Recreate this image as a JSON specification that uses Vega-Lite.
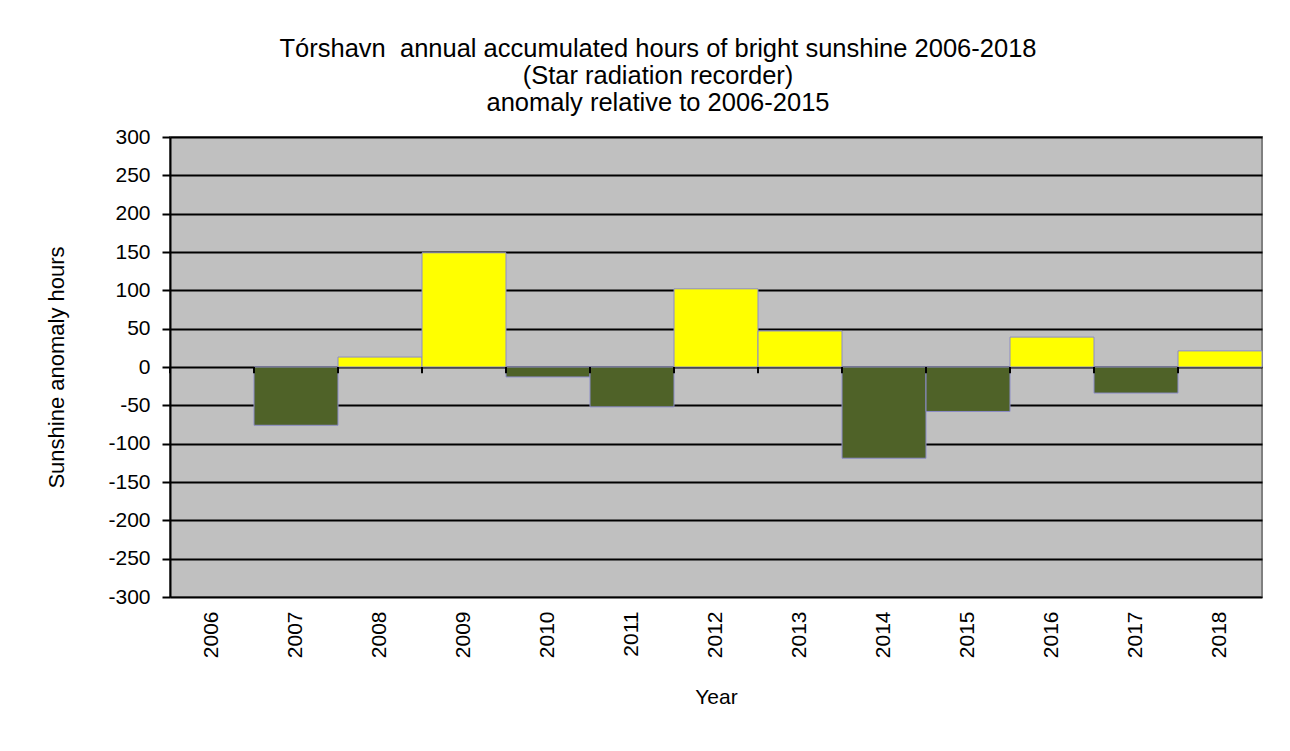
{
  "$schema": "https://vega.github.io/schema/vega-lite/v6.json",
  "width": 1092,
  "height": 460,
  "autosize": {"type": "none"},
  "padding": {"left": 170, "top": 137, "right": 28, "bottom": 154},
  "background": "white",
  "title": {
    "text": ["Tórshavn\u00a0 annual accumulated hours of bright sunshine 2006-2018", "(Star radiation recorder)", "anomaly relative to 2006-2015"],
    "font": "Liberation Sans",
    "fontSize": 25.5,
    "fontWeight": "normal",
    "lineHeight": 27,
    "color": "black",
    "anchor": "middle",
    "dx": -58,
    "offset": 10
  },
  "config": {
    "view": {"fill": "#c0c0c0", "stroke": "#808080", "strokeWidth": 2},
    "font": "Liberation Sans"
  },
  "data": {
    "values": [
      {"year": "2006", "anomaly": 0},
      {"year": "2007", "anomaly": -76},
      {"year": "2008", "anomaly": 13},
      {"year": "2009", "anomaly": 149},
      {"year": "2010", "anomaly": -13},
      {"year": "2011", "anomaly": -52},
      {"year": "2012", "anomaly": 102},
      {"year": "2013", "anomaly": 47},
      {"year": "2014", "anomaly": -119},
      {"year": "2015", "anomaly": -58},
      {"year": "2016", "anomaly": 39},
      {"year": "2017", "anomaly": -34},
      {"year": "2018", "anomaly": 21}
    ]
  },
  "encoding": {
    "x": {
      "field": "year",
      "type": "ordinal",
      "scale": {"paddingInner": 0, "paddingOuter": 0},
      "axis": {
        "title": "Year",
        "titleFont": "Liberation Sans",
        "titleFontSize": 21,
        "titleFontWeight": "normal",
        "titleColor": "black",
        "titlePadding": 29,
        "labelAngle": 270,
        "labelFont": "Liberation Sans",
        "labelFontSize": 21,
        "labelColor": "black",
        "labelPadding": 14,
        "ticks": false,
        "domain": false,
        "grid": false
      }
    }
  },
  "layer": [
    {
      "mark": {"type": "bar", "strokeWidth": 1},
      "encoding": {
        "y": {
          "field": "anomaly",
          "type": "quantitative",
          "scale": {"domain": [-300, 300], "nice": false},
          "axis": {
            "title": "Sunshine anomaly hours",
            "titleFont": "Liberation Sans",
            "titleFontSize": 22,
            "titleFontWeight": "normal",
            "titleColor": "black",
            "titleX": -102,
            "values": [-300, -250, -200, -150, -100, -50, 0, 50, 100, 150, 200, 250, 300],
            "labelExpr": "'' + datum.value",
            "labelFont": "Liberation Sans",
            "labelFontSize": 21,
            "labelColor": "black",
            "labelPadding": 12,
            "tickSize": 8,
            "tickColor": "black",
            "tickWidth": 2,
            "domainColor": "black",
            "domainWidth": 2,
            "grid": true,
            "gridColor": "black",
            "gridWidth": 2,
            "gridOpacity": 1
          }
        },
        "color": {
          "condition": {"test": "datum.anomaly >= 0", "value": "#ffff00"},
          "value": "#4f6228"
        },
        "stroke": {
          "condition": {"test": "datum.anomaly == 0", "value": "transparent"},
          "value": "#8c8cc8"
        }
      }
    },
    {
      "mark": {"type": "rule", "color": "black", "strokeWidth": 2},
      "encoding": {
        "x": {"field": "year", "type": "ordinal", "bandPosition": 0},
        "y": {
          "datum": 0,
          "type": "quantitative",
          "axis": {
            "title": "Sunshine anomaly hours",
            "titleFont": "Liberation Sans",
            "titleFontSize": 22,
            "titleFontWeight": "normal",
            "titleColor": "black",
            "titleX": -102,
            "values": [-300, -250, -200, -150, -100, -50, 0, 50, 100, 150, 200, 250, 300],
            "labelExpr": "'' + datum.value",
            "labelFont": "Liberation Sans",
            "labelFontSize": 21,
            "labelColor": "black",
            "labelPadding": 12,
            "tickSize": 8,
            "tickColor": "black",
            "tickWidth": 2,
            "domainColor": "black",
            "domainWidth": 2,
            "grid": true,
            "gridColor": "black",
            "gridWidth": 2,
            "gridOpacity": 1
          }
        },
        "y2": {"datum": -8}
      }
    }
  ]
}
